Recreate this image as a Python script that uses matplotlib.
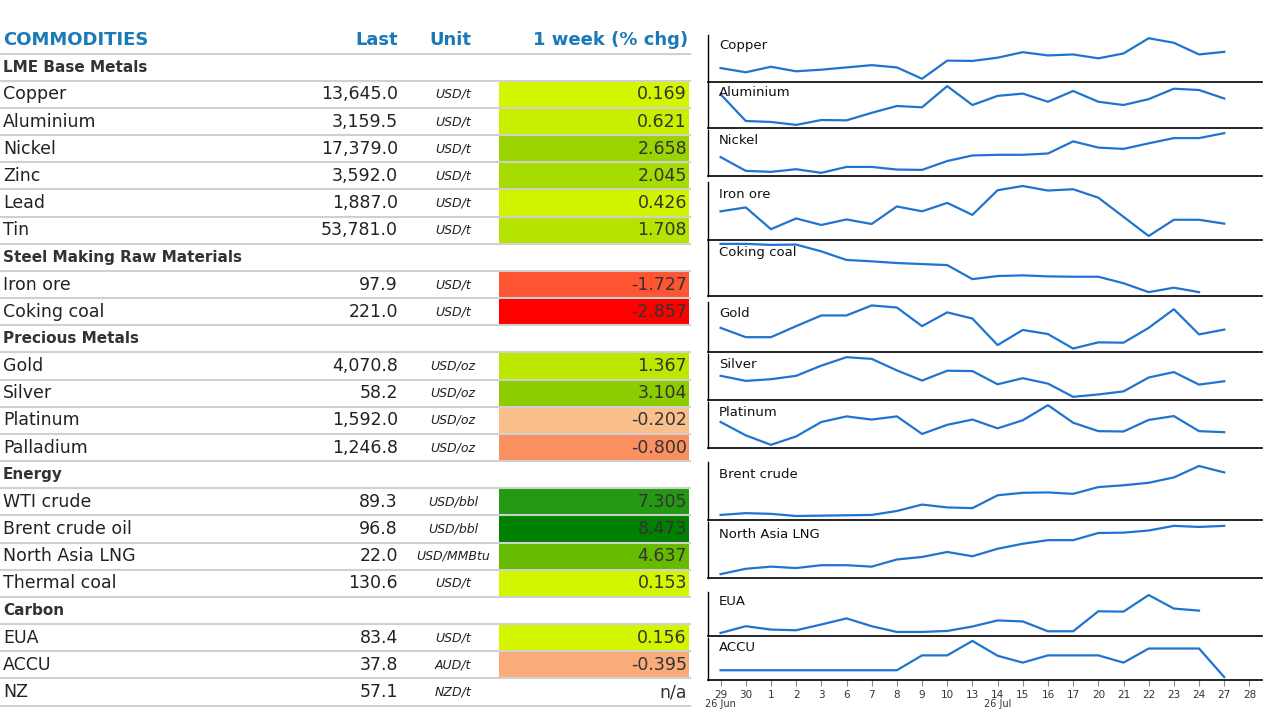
import matplotlib.pyplot as plt

# table rows: (label, last, unit, change) ; section rows have last=None
rows = [
    ("LME Base Metals", None, None, None),
    ("Copper", "13,645.0", "USD/t", "0.169"),
    ("Aluminium", "3,159.5", "USD/t", "0.621"),
    ("Nickel", "17,379.0", "USD/t", "2.658"),
    ("Zinc", "3,592.0", "USD/t", "2.045"),
    ("Lead", "1,887.0", "USD/t", "0.426"),
    ("Tin", "53,781.0", "USD/t", "1.708"),
    ("Steel Making Raw Materials", None, None, None),
    ("Iron ore", "97.9", "USD/t", "-1.727"),
    ("Coking coal", "221.0", "USD/t", "-2.857"),
    ("Precious Metals", None, None, None),
    ("Gold", "4,070.8", "USD/oz", "1.367"),
    ("Silver", "58.2", "USD/oz", "3.104"),
    ("Platinum", "1,592.0", "USD/oz", "-0.202"),
    ("Palladium", "1,246.8", "USD/oz", "-0.800"),
    ("Energy", None, None, None),
    ("WTI crude", "89.3", "USD/bbl", "7.305"),
    ("Brent crude oil", "96.8", "USD/bbl", "8.473"),
    ("North Asia LNG", "22.0", "USD/MMBtu", "4.637"),
    ("Thermal coal", "130.6", "USD/t", "0.153"),
    ("Carbon", None, None, None),
    ("EUA", "83.4", "USD/t", "0.156"),
    ("ACCU", "37.8", "AUD/t", "-0.395"),
    ("NZ", "57.1", "NZD/t", "n/a"),
]
cell_colors = {
    "0.169": "#d4f500", "0.621": "#c8ee00", "2.658": "#99d400", "2.045": "#a6dc00",
    "0.426": "#d0f300", "1.708": "#b4e400", "-1.727": "#ff5533", "-2.857": "#ff0000",
    "1.367": "#bce800", "3.104": "#8ccc00", "-0.202": "#f9bf8c", "-0.800": "#fa9060",
    "7.305": "#229911", "8.473": "#008000", "4.637": "#66bb00", "0.153": "#d4f500",
    "0.156": "#d4f500", "-0.395": "#f9ab7a",
}

# sparkline series (higher = higher price)
days = ["29", "30", "1", "2", "3", "6", "7", "8", "9", "10", "13", "14", "15", "16",
        "17", "20", "21", "22", "23", "24", "27", "28"]
spark = {
    "Copper": [142,155,138,152,147,140,133,140,175,119,120,110,93,103,100,112,97,50,64,100,92],
    "Aluminium": [228,310,313,322,307,308,285,264,268,203,261,233,226,251,218,251,261,243,211,215,241],
    "Nickel": [415,457,460,452,463,445,445,453,454,427,410,408,408,404,367,386,390,373,357,357,342],
    "Iron ore": [575,563,630,597,617,600,614,560,575,549,586,510,497,511,507,533,592,651,601,601,613],
    "Coking coal": [26,26,29,28,48,73,77,82,85,88,129,120,118,121,122,122,141,167,154,167],
    "Gold": [278,305,305,273,242,242,213,219,273,233,251,328,284,296,338,320,321,278,224,297,283],
    "Silver": [426,441,436,426,396,371,376,410,440,411,412,451,433,449,488,481,472,431,415,452,442],
    "Platinum": [572,610,637,613,572,556,565,556,606,580,565,590,567,524,574,598,599,566,555,598,601],
    "Brent crude": [185,180,182,188,187,186,185,174,156,164,166,130,123,122,126,107,102,95,80,48,66],
    "North Asia LNG": [344,329,323,327,319,319,323,303,296,282,294,273,259,249,249,229,228,222,209,212,209],
    "EUA": [160,140,150,152,135,117,140,157,157,154,141,123,126,155,155,96,97,48,88,94],
    "ACCU": [263,263,263,263,263,263,263,263,224,224,186,225,243,224,224,224,243,206,206,206,281],
}
# panel top/bottom in pixels
panels = {
    "Copper": (35, 82), "Aluminium": (83, 128), "Nickel": (130, 176), "Iron ore": (182, 240),
    "Coking coal": (240, 296), "Gold": (302, 352), "Silver": (354, 400), "Platinum": (402, 448),
    "Brent crude": (462, 520), "North Asia LNG": (522, 578), "EUA": (592, 636), "ACCU": (638, 680),
}

W, H = 1280, 720
fig = plt.figure(figsize=(12.8, 7.2), dpi=100)
ax = fig.add_axes([0, 0, 1, 1])
ax.set_xlim(0, W)
ax.set_ylim(H, 0)
ax.axis("off")

blue = "#1a7ab8"
y0, dy = 40, 27.17
ax.text(3, y0, "COMMODITIES", color=blue, fontsize=13, fontweight="bold", va="center")
ax.text(398, y0, "Last", color=blue, fontsize=13, fontweight="bold", va="center", ha="right")
ax.text(450, y0, "Unit", color=blue, fontsize=13, fontweight="bold", va="center", ha="center")
ax.text(688, y0, "1 week (% chg)", color=blue, fontsize=13, fontweight="bold", va="center", ha="right")
ax.plot([0, 690], [y0 + dy / 2] * 2, color="#d0d0d0", lw=1.5)

for i, (lab, last, unit, chg) in enumerate(rows):
    y = y0 + (i + 1) * dy
    if last is None:
        ax.text(3, y, lab, fontsize=11, fontweight="bold", color="#333333", va="center")
    else:
        if chg in cell_colors:
            ax.add_patch(plt.Rectangle((499, y - dy / 2 + 1), 190, dy - 2,
                                       color=cell_colors[chg], lw=0))
        ax.text(3, y, lab, fontsize=12.5, color="#222222", va="center")
        ax.text(398, y, last, fontsize=12.5, color="#222222", va="center", ha="right")
        ax.text(453, y, unit, fontsize=9, style="italic", color="#222222", va="center", ha="center")
        ax.text(687, y, chg, fontsize=12.5, color="#333333", va="center", ha="right")
    ax.plot([0, 690], [y + dy / 2] * 2, color="#d0d0d0", lw=1.5)

# sparklines
L, R = 708, 1262
for name, vals in spark.items():
    top, bot = panels[name]
    sa = fig.add_axes([L / W, 1 - bot / H, (R - L) / W, (bot - top) / H])
    sa.plot(range(len(vals)), [-v for v in vals], color="#1f74d0", lw=1.6)
    lo, hi = -max(vals), -min(vals)
    pad = (hi - lo) * 0.08
    sa.set_ylim(lo - pad, hi + pad)
    sa.set_xlim(-0.5, len(days) - 0.5)
    sa.set_facecolor("none")
    for s in ("top", "right"):
        sa.spines[s].set_visible(False)
    sa.spines["left"].set_linewidth(1)
    sa.spines["bottom"].set_linewidth(1.2)
    sa.set_yticks([])
    sa.text(0.02, 0.78, name, transform=sa.transAxes, fontsize=9.5, va="center", color="#111111")
    if name == "ACCU":
        sa.set_xticks(range(len(days)))
        sa.set_xticklabels(days, fontsize=7.5, color="#333333")
        sa.tick_params(axis="x", length=4, color="#888888", pad=3)
        sa.text(0, -0.58, "26 Jun", transform=sa.get_xaxis_transform(), fontsize=7,
                color="#333333", ha="center", va="center")
        sa.text(11, -0.58, "26 Jul", transform=sa.get_xaxis_transform(), fontsize=7,
                color="#333333", ha="center", va="center")
    else:
        sa.set_xticks([])

fig.savefig("out.png", dpi=100)
